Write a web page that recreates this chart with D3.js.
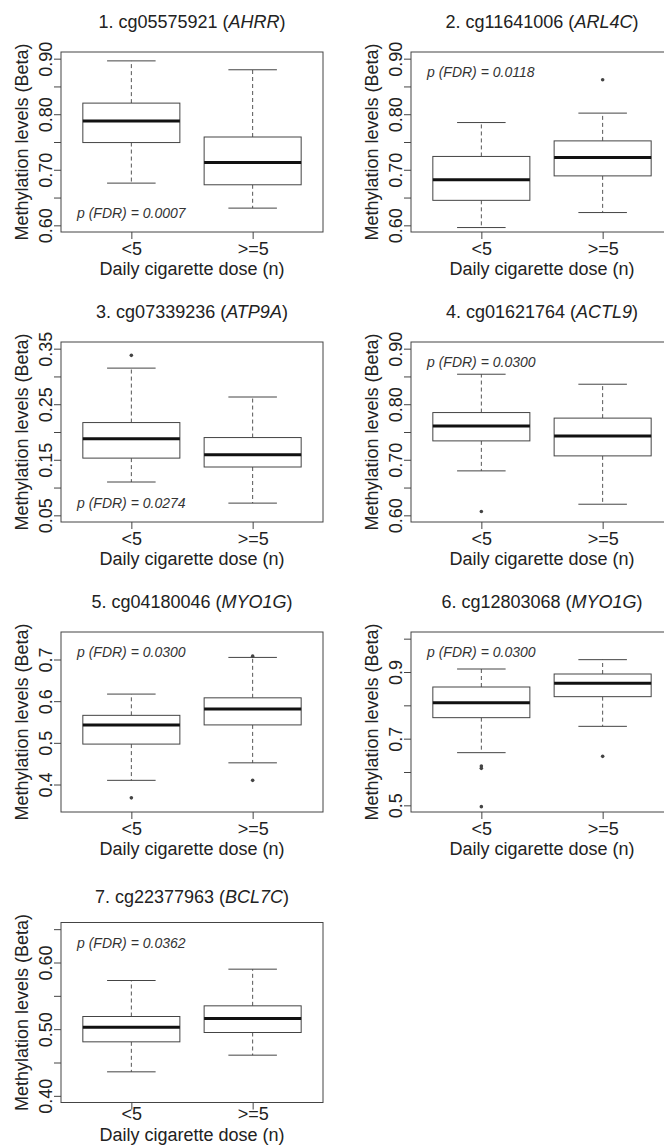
<!DOCTYPE html>
<html>
<head>
<meta charset="utf-8">
<script src="https://cdn.jsdelivr.net/npm/d3@7"></script>
<style>
  body { margin: 0; background: #fff; }
  svg { display: block; font-family: "Liberation Sans", Arial, sans-serif; }
</style>
</head>
<body>
<div id="container"></div>
<script>
/* DATA */
const groups = ["<5", ">=5"];
const probes = ["cg05575921", "cg11641006", "cg07339236", "cg01621764", "cg04180046", "cg12803068", "cg22377963"];
const genes = ["AHRR", "ARL4C", "ATP9A", "ACTL9", "MYO1G", "MYO1G", "BCL7C"];
const pValues = ["0.0007", "0.0118", "0.0274", "0.0300", "0.0300", "0.0300", "0.0362"];

// ylim given to each boxplot
const yLimits = [[0.6, 0.9], [0.6, 0.9], [0.05, 0.35], [0.6, 0.9], [0.35, 0.75], [0.5, 1.0], [0.4, 0.65]];
const yTicks = [
  [0.60, 0.65, 0.70, 0.75, 0.80, 0.85, 0.90],
  [0.60, 0.65, 0.70, 0.75, 0.80, 0.85, 0.90],
  [0.05, 0.10, 0.15, 0.20, 0.25, 0.30, 0.35],
  [0.60, 0.65, 0.70, 0.75, 0.80, 0.85, 0.90],
  [0.4, 0.5, 0.6, 0.7],
  [0.5, 0.6, 0.7, 0.8, 0.9, 1.0],
  [0.40, 0.45, 0.50, 0.55, 0.60, 0.65]
];
const yTickLabels = [
  ["0.60", "", "0.70", "", "0.80", "", "0.90"],
  ["0.60", "", "0.70", "", "0.80", "", "0.90"],
  ["0.05", "", "0.15", "", "0.25", "", "0.35"],
  ["0.60", "", "0.70", "", "0.80", "", "0.90"],
  ["0.4", "0.5", "0.6", "0.7"],
  ["0.5", "", "0.7", "", "0.9", ""],
  ["0.40", "", "0.50", "", "0.60", ""]
];

// [lower whisker, Q1, median, Q3, upper whisker]
const statsUnder5 = [
  [0.676, 0.749, 0.788, 0.820, 0.896],
  [0.596, 0.645, 0.682, 0.724, 0.785],
  [0.110, 0.153, 0.188, 0.217, 0.315],
  [0.680, 0.734, 0.761, 0.785, 0.854],
  [0.410, 0.497, 0.543, 0.566, 0.617],
  [0.658, 0.763, 0.808, 0.855, 0.909],
  [0.436, 0.481, 0.503, 0.519, 0.573]
];
const statsOver5 = [
  [0.631, 0.673, 0.713, 0.759, 0.880],
  [0.623, 0.689, 0.722, 0.752, 0.802],
  [0.072, 0.137, 0.159, 0.190, 0.263],
  [0.620, 0.707, 0.743, 0.775, 0.836],
  [0.452, 0.543, 0.581, 0.608, 0.705],
  [0.737, 0.826, 0.866, 0.894, 0.937],
  [0.461, 0.495, 0.516, 0.535, 0.590]
];
const outliersUnder5 = [[], [], [0.338], [0.607], [0.368], [0.618, 0.611, 0.496], []];
const outliersOver5 = [[], [0.862], [], [], [0.708, 0.410], [0.647], []];

/* LAYOUT */
const width = 664, height = 1147;
const colX = [0, 350];
const rowY = [0, 290, 580, 870.5];
const plot = { left: 61, right: 323, top: 52, bottom: 232 };
// text offsets from the plot box; the last row sits tighter
const rowText = [
  { title: 24, tick: 23, label: 43 },
  { title: 24, tick: 23, label: 43 },
  { title: 24, tick: 23, label: 43 },
  { title: 19.5, tick: 17.5, label: 38.5 }
];
const pCorner = ["bottom", "top", "bottom", "top", "top", "top", "top"];
const textColor = "#222";

const svg = d3.select("#container")
  .append("svg")
  .attr("width", width)
  .attr("height", height)
  .style("background-color", "#fff");

probes.forEach((probe, i) => {
  const row = Math.floor(i / 2);
  const off = rowText[row];
  const g = svg.append("g")
    .attr("transform", `translate(${colX[i % 2]},${rowY[row]})`);

  /* SCALES */
  const xScale = d3.scaleLinear()
    .domain([0.5 - 0.08, 2.5 + 0.08])
    .range([plot.left, plot.right]);

  const [lo, hi] = yLimits[i];
  const pad = (hi - lo) * 0.04;
  const yScale = d3.scaleLinear()
    .domain([lo - pad, hi + pad])
    .range([plot.bottom, plot.top]);

  // frame
  g.append("rect")
    .attr("x", plot.left)
    .attr("y", plot.top)
    .attr("width", plot.right - plot.left)
    .attr("height", plot.bottom - plot.top)
    .attr("fill", "none")
    .attr("stroke", "#444")
    .attr("stroke-width", 1);

  // AXES
  g.append("g")
    .attr("transform", `translate(${plot.left},0)`)
    .call(d3.axisLeft(yScale)
      .tickValues(yTicks[i])
      .tickSize(7)
      .tickFormat((d, k) => yTickLabels[i][k]))
    .call(sel => sel.select(".domain").remove())
    .call(sel => sel.selectAll(".tick line").attr("stroke", "#444"))
    .call(sel => sel.selectAll(".tick text")
      .attr("transform", "rotate(-90)")
      .attr("x", 0)
      .attr("y", -9)
      .attr("dy", 0)
      .attr("text-anchor", "middle")
      .attr("fill", textColor)
      .attr("font-size", 18)
      .attr("font-family", "Liberation Sans, Arial, sans-serif"));

  g.append("g")
    .attr("transform", `translate(0,${plot.bottom})`)
    .call(d3.axisBottom(xScale)
      .tickValues([1, 2])
      .tickSize(7)
      .tickFormat((d, k) => groups[k]))
    .call(sel => sel.select(".domain").remove())
    .call(sel => sel.selectAll(".tick line").attr("stroke", "#444"))
    .call(sel => sel.selectAll(".tick text")
      .attr("y", off.tick)
      .attr("dy", 0)
      .attr("fill", textColor)
      .attr("font-size", 18)
      .attr("font-family", "Liberation Sans, Arial, sans-serif"));

  // BOXES
  const boxes = groups.map((name, k) => ({
    pos: k + 1,
    s: k === 0 ? statsUnder5[i] : statsOver5[i],
    out: k === 0 ? outliersUnder5[i] : outliersOver5[i]
  }));

  const box = g.selectAll("g.box")
    .data(boxes)
    .join("g")
    .attr("class", "box");

  // dashed whiskers
  box.selectAll("line.whisker")
    .data(d => [[d.pos, d.s[3], d.s[4]], [d.pos, d.s[1], d.s[0]]])
    .join("line")
    .attr("class", "whisker")
    .attr("x1", d => xScale(d[0]))
    .attr("x2", d => xScale(d[0]))
    .attr("y1", d => yScale(d[1]))
    .attr("y2", d => yScale(d[2]))
    .attr("stroke", "#555")
    .attr("stroke-width", 1)
    .attr("stroke-dasharray", "4,3");

  // staples
  box.selectAll("line.staple")
    .data(d => [[d.pos, d.s[0]], [d.pos, d.s[4]]])
    .join("line")
    .attr("class", "staple")
    .attr("x1", d => xScale(d[0] - 0.2))
    .attr("x2", d => xScale(d[0] + 0.2))
    .attr("y1", d => yScale(d[1]))
    .attr("y2", d => yScale(d[1]))
    .attr("stroke", "#444")
    .attr("stroke-width", 1);

  box.append("rect")
    .attr("x", d => xScale(d.pos - 0.4))
    .attr("width", d => xScale(d.pos + 0.4) - xScale(d.pos - 0.4))
    .attr("y", d => yScale(d.s[3]))
    .attr("height", d => yScale(d.s[1]) - yScale(d.s[3]))
    .attr("fill", "#fff")
    .attr("stroke", "#444")
    .attr("stroke-width", 1);

  box.append("line")
    .attr("x1", d => xScale(d.pos - 0.4))
    .attr("x2", d => xScale(d.pos + 0.4))
    .attr("y1", d => yScale(d.s[2]))
    .attr("y2", d => yScale(d.s[2]))
    .attr("stroke", "#111")
    .attr("stroke-width", 3);

  box.selectAll("circle.outlier")
    .data(d => d.out.map(v => [d.pos, v]))
    .join("circle")
    .attr("class", "outlier")
    .attr("cx", d => xScale(d[0]))
    .attr("cy", d => yScale(d[1]))
    .attr("r", 1.8)
    .attr("fill", "#444");

  // TEXT
  const title = g.append("text")
    .attr("x", (plot.left + plot.right) / 2)
    .attr("y", plot.top - off.title)
    .attr("text-anchor", "middle")
    .attr("font-size", 18)
    .attr("fill", textColor);
  title.append("tspan").text(`${i + 1}. ${probe} (`);
  title.append("tspan").attr("font-style", "italic").text(genes[i]);
  title.append("tspan").text(")");

  g.append("text")
    .attr("transform", `translate(28,${(plot.top + plot.bottom) / 2}) rotate(-90)`)
    .attr("text-anchor", "middle")
    .attr("font-size", 18)
    .attr("fill", textColor)
    .text("Methylation levels (Beta)");

  g.append("text")
    .attr("x", (plot.left + plot.right) / 2)
    .attr("y", plot.bottom + off.label)
    .attr("text-anchor", "middle")
    .attr("font-size", 18)
    .attr("fill", textColor)
    .text("Daily cigarette dose (n)");

  g.append("text")
    .attr("x", plot.left + 16)
    .attr("y", pCorner[i] === "top" ? 77 : 218)
    .attr("font-size", 14)
    .attr("font-style", "italic")
    .attr("fill", "#333")
    .text(`p (FDR) = ${pValues[i]}`);
});
</script>
</body>
</html>
